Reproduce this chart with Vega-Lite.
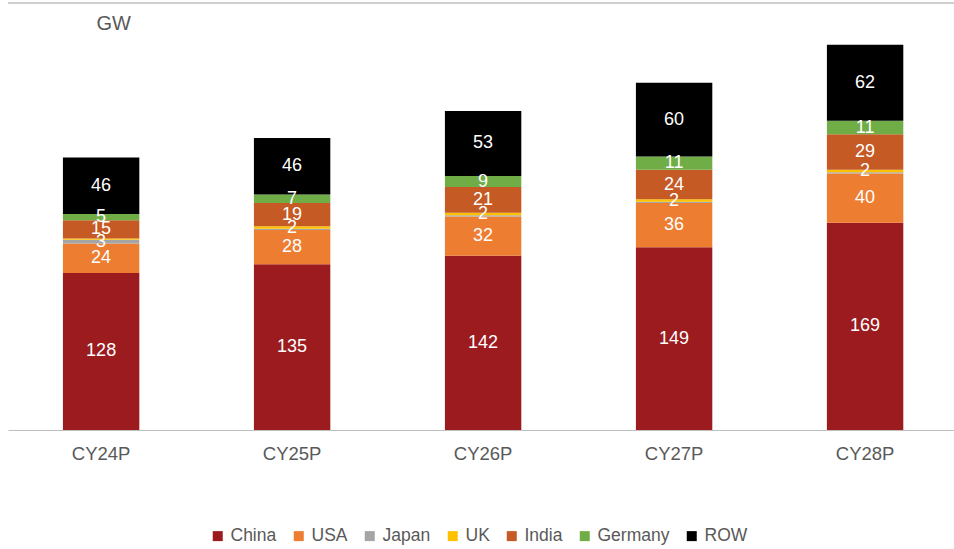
{
  "$schema": "https://vega.github.io/schema/vega-lite/v6.json",
  "autosize": {"type": "none"},
  "width": 946,
  "height": 427,
  "padding": {"left": 8, "top": 3, "right": 0, "bottom": 119},
  "background": "white",
  "config": {
    "view": {"stroke": null},
    "font": "Liberation Sans"
  },
  "data": {
    "values": [
      {"year": "CY24P", "series": "China", "k": 1, "value": 128},
      {"year": "CY24P", "series": "USA", "k": 2, "value": 24},
      {"year": "CY24P", "series": "Japan", "k": 3, "value": 3},
      {"year": "CY24P", "series": "UK", "k": 4, "value": 1},
      {"year": "CY24P", "series": "India", "k": 5, "value": 15},
      {"year": "CY24P", "series": "Germany", "k": 6, "value": 5},
      {"year": "CY24P", "series": "ROW", "k": 7, "value": 46},
      {"year": "CY25P", "series": "China", "k": 1, "value": 135},
      {"year": "CY25P", "series": "USA", "k": 2, "value": 28},
      {"year": "CY25P", "series": "Japan", "k": 3, "value": 1},
      {"year": "CY25P", "series": "UK", "k": 4, "value": 2},
      {"year": "CY25P", "series": "India", "k": 5, "value": 19},
      {"year": "CY25P", "series": "Germany", "k": 6, "value": 7},
      {"year": "CY25P", "series": "ROW", "k": 7, "value": 46},
      {"year": "CY26P", "series": "China", "k": 1, "value": 142},
      {"year": "CY26P", "series": "USA", "k": 2, "value": 32},
      {"year": "CY26P", "series": "Japan", "k": 3, "value": 1},
      {"year": "CY26P", "series": "UK", "k": 4, "value": 2},
      {"year": "CY26P", "series": "India", "k": 5, "value": 21},
      {"year": "CY26P", "series": "Germany", "k": 6, "value": 9},
      {"year": "CY26P", "series": "ROW", "k": 7, "value": 53},
      {"year": "CY27P", "series": "China", "k": 1, "value": 149},
      {"year": "CY27P", "series": "USA", "k": 2, "value": 36},
      {"year": "CY27P", "series": "Japan", "k": 3, "value": 1},
      {"year": "CY27P", "series": "UK", "k": 4, "value": 2},
      {"year": "CY27P", "series": "India", "k": 5, "value": 24},
      {"year": "CY27P", "series": "Germany", "k": 6, "value": 11},
      {"year": "CY27P", "series": "ROW", "k": 7, "value": 60},
      {"year": "CY28P", "series": "China", "k": 1, "value": 169},
      {"year": "CY28P", "series": "USA", "k": 2, "value": 40},
      {"year": "CY28P", "series": "Japan", "k": 3, "value": 1},
      {"year": "CY28P", "series": "UK", "k": 4, "value": 2},
      {"year": "CY28P", "series": "India", "k": 5, "value": 29},
      {"year": "CY28P", "series": "Germany", "k": 6, "value": 11},
      {"year": "CY28P", "series": "ROW", "k": 7, "value": 62}
    ]
  },
  "transform": [
    {"stack": "value", "groupby": ["year"], "sort": [{"field": "k", "order": "ascending"}], "as": ["v0", "v1"]},
    {"calculate": "(datum.v0 + datum.v1) / 2", "as": "vmid"}
  ],
  "layer": [
    {
      "mark": {"type": "bar"},
      "encoding": {
        "x": {
          "field": "year", "type": "nominal", "sort": null,
          "scale": {"paddingInner": 0.6, "paddingOuter": 0.2765, "align": 0.52},
          "axis": {
            "title": null, "labelAngle": 0, "labelFontSize": 18.5, "labelColor": "#595959",
            "labelPadding": 14, "ticks": false, "domainColor": "#bfbfbf", "domainWidth": 1
          }
        },
        "y": {
          "field": "v0", "type": "quantitative",
          "scale": {"domain": [0, 348], "nice": false},
          "axis": {
            "title": "GW", "titleAngle": 0, "titleX": 88, "titleY": 26, "titleAlign": "left",
            "titleBaseline": "alphabetic",
            "titleFontSize": 20, "titleFontWeight": "normal", "titleColor": "#595959",
            "labels": false, "ticks": false, "domain": false, "grid": false
          }
        },
        "y2": {"field": "v1"},
        "color": {
          "field": "series", "type": "nominal",
          "scale": {
            "domain": ["China", "USA", "Japan", "UK", "India", "Germany", "ROW"],
            "range": ["#9B1B1F", "#ED7D31", "#A5A5A5", "#FFC000", "#C55A24", "#70AD47", "#000000"]
          },
          "legend": {
            "title": null, "orient": "none", "direction": "horizontal",
            "legendX": 201, "legendY": 524,
            "symbolType": "square", "symbolSize": 100, "symbolStrokeWidth": 0,
            "labelFontSize": 17.5, "labelColor": "#595959", "labelOffset": 4,
            "columnPadding": 13
          }
        }
      }
    },
    {
      "transform": [{"filter": "datum.value >= 2"}],
      "mark": {"type": "text", "color": "white", "fontSize": 18, "baseline": "middle", "align": "center"},
      "encoding": {
        "x": {"field": "year", "type": "nominal", "sort": null},
        "y": {"field": "vmid", "type": "quantitative"},
        "text": {"field": "value", "type": "quantitative"}
      }
    },
    {
      "data": {"values": [{"top": 348}]},
      "mark": {"type": "rule", "color": "#bfbfbf", "strokeWidth": 1.5},
      "encoding": {"y": {"field": "top", "type": "quantitative"}}
    }
  ]
}
